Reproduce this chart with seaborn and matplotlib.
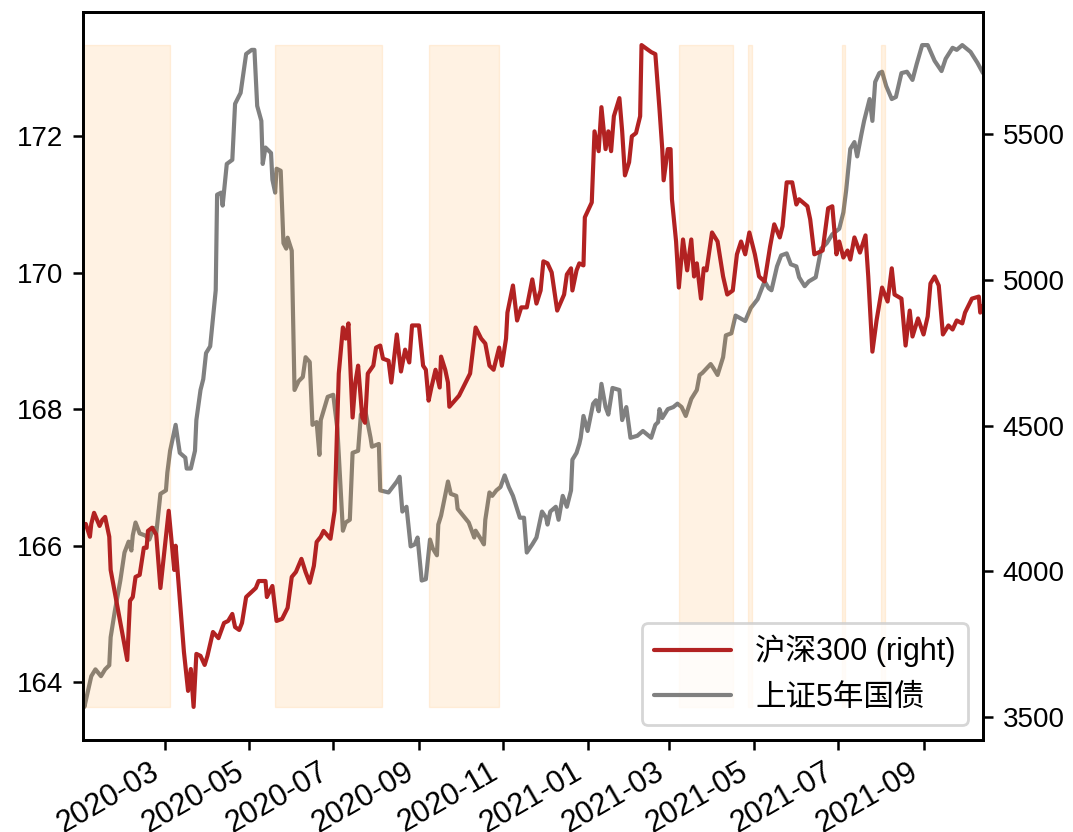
import matplotlib
matplotlib.use('Agg')
import matplotlib.pyplot as plt
import matplotlib.dates as mdates
import seaborn as sns
import pandas as pd

sns.set_theme(style='ticks')
plt.rcParams['font.family'] = ['Liberation Sans', 'Noto Sans CJK SC', 'DejaVu Sans']
plt.rcParams['axes.unicode_minus'] = False
plt.rcParams.update({
    'axes.edgecolor': 'black', 'axes.linewidth': 1.0,
    'xtick.color': 'black', 'ytick.color': 'black',
    'text.color': 'black', 'axes.labelcolor': 'black',
    'xtick.labelsize': 11, 'ytick.labelsize': 10, 'legend.fontsize': 11,
    'xtick.major.size': 3.5, 'ytick.major.size': 3.5,
    'xtick.major.width': 0.9, 'ytick.major.width': 0.9,
    'xtick.major.pad': 2.5,
})

# 沪深300 (right axis)
csi_dates = [
    "2020-01-02", "2020-01-04", "2020-01-07", "2020-01-08", "2020-01-10", "2020-01-14", "2020-01-16",
    "2020-01-18", "2020-01-21", "2020-01-22", "2020-02-03", "2020-02-05", "2020-02-07", "2020-02-09",
    "2020-02-12", "2020-02-15", "2020-02-17", "2020-02-18", "2020-02-21", "2020-02-24", "2020-02-27",
    "2020-03-01", "2020-03-04", "2020-03-08", "2020-03-09", "2020-03-15", "2020-03-18", "2020-03-20",
    "2020-03-22", "2020-03-24", "2020-03-27", "2020-03-30", "2020-04-01", "2020-04-05", "2020-04-09",
    "2020-04-13", "2020-04-16", "2020-04-19", "2020-04-21", "2020-04-24", "2020-04-26", "2020-04-29",
    "2020-05-06", "2020-05-08", "2020-05-13", "2020-05-14", "2020-05-18", "2020-05-21", "2020-05-25",
    "2020-05-29", "2020-06-01", "2020-06-04", "2020-06-08", "2020-06-11", "2020-06-14", "2020-06-17",
    "2020-06-19", "2020-06-22", "2020-06-24", "2020-06-29", "2020-07-02", "2020-07-05", "2020-07-08",
    "2020-07-10", "2020-07-12", "2020-07-15", "2020-07-17", "2020-07-19", "2020-07-22", "2020-07-24",
    "2020-07-26", "2020-07-30", "2020-08-01", "2020-08-04", "2020-08-06", "2020-08-10", "2020-08-12",
    "2020-08-16", "2020-08-19", "2020-08-22", "2020-08-25", "2020-08-27", "2020-09-01", "2020-09-04",
    "2020-09-06", "2020-09-08", "2020-09-10", "2020-09-13", "2020-09-16", "2020-09-17", "2020-09-20",
    "2020-09-22", "2020-09-23", "2020-09-30", "2020-10-08", "2020-10-12", "2020-10-16", "2020-10-19",
    "2020-10-22", "2020-10-25", "2020-10-29", "2020-10-31", "2020-11-03", "2020-11-04", "2020-11-08",
    "2020-11-11", "2020-11-14", "2020-11-18", "2020-11-22", "2020-11-25", "2020-11-28", "2020-11-30",
    "2020-12-03", "2020-12-06", "2020-12-10", "2020-12-15", "2020-12-17", "2020-12-20", "2020-12-21",
    "2020-12-24", "2020-12-26", "2020-12-29", "2020-12-30", "2021-01-04", "2021-01-06", "2021-01-09",
    "2021-01-11", "2021-01-14", "2021-01-16", "2021-01-18", "2021-01-20", "2021-01-24", "2021-01-26",
    "2021-01-28", "2021-01-31", "2021-02-02", "2021-02-05", "2021-02-08", "2021-02-09", "2021-02-16",
    "2021-02-19", "2021-02-22", "2021-02-24", "2021-02-25", "2021-02-28", "2021-03-02", "2021-03-03",
    "2021-03-06", "2021-03-08", "2021-03-11", "2021-03-14", "2021-03-17", "2021-03-19", "2021-03-21",
    "2021-03-24", "2021-03-26", "2021-03-28", "2021-04-01", "2021-04-05", "2021-04-09", "2021-04-12",
    "2021-04-16", "2021-04-19", "2021-04-22", "2021-04-25", "2021-04-28", "2021-05-02", "2021-05-05",
    "2021-05-09", "2021-05-13", "2021-05-16", "2021-05-20", "2021-05-22", "2021-05-25", "2021-05-29",
    "2021-06-01", "2021-06-03", "2021-06-09", "2021-06-11", "2021-06-14", "2021-06-20", "2021-06-24",
    "2021-06-27", "2021-06-30", "2021-07-02", "2021-07-05", "2021-07-08", "2021-07-10", "2021-07-13",
    "2021-07-17", "2021-07-21", "2021-07-23", "2021-07-26", "2021-07-29", "2021-08-02", "2021-08-06",
    "2021-08-09", "2021-08-11", "2021-08-16", "2021-08-19", "2021-08-22", "2021-08-24", "2021-08-28",
    "2021-09-01", "2021-09-04", "2021-09-06", "2021-09-09", "2021-09-12", "2021-09-15", "2021-09-19",
    "2021-09-22", "2021-09-25", "2021-09-29", "2021-10-01", "2021-10-06", "2021-10-11", "2021-10-12",
    "2021-10-14",
]
csi_values = [
    4156, 4163, 4119, 4163, 4201, 4156, 4177,
    4187, 4119, 4005, 3696, 3899, 3912, 3981,
    3988, 4081, 4081, 4139, 4150, 4126, 3943,
    4074, 4208, 4005, 4088, 3724, 3590, 3665,
    3535, 3717, 3710, 3679, 3710, 3792, 3771,
    3823, 3830, 3854, 3809, 3799, 3823, 3912,
    3943, 3967, 3967, 3912, 3950, 3830, 3837,
    3875, 3981, 3998, 4043, 3998, 3961, 4019,
    4101, 4119, 4139, 4112, 4208, 4679, 4837,
    4799, 4851, 4528, 4648, 4706, 4528, 4510,
    4679, 4706, 4768, 4775, 4730, 4723, 4648,
    4813, 4686, 4761, 4717, 4844, 4844, 4706,
    4692, 4586, 4631, 4692, 4631, 4737, 4692,
    4648, 4565, 4603, 4679, 4837, 4799, 4782,
    4706, 4692, 4768, 4706, 4799, 4888, 4981,
    4861, 4906, 4906, 5002, 4919, 4964, 5064,
    5057, 5026, 4895, 4950, 5019, 5040, 4964,
    5033, 5057, 5050, 5215, 5266, 5510, 5442,
    5593, 5449, 5510, 5442, 5562, 5624, 5510,
    5359, 5404, 5493, 5504, 5562, 5806, 5782,
    5775, 5586, 5449, 5342, 5449, 5449, 5277,
    5132, 4974, 5139, 5033, 5139, 5012, 5057,
    4936, 5040, 5033, 5163, 5132, 5012, 4950,
    4964, 5088, 5132, 5088, 5163, 5088, 5012,
    4995, 5115, 5191, 5146, 5184, 5335, 5335,
    5259, 5277, 5253, 5208, 5088, 5101, 5246,
    5253, 5088, 5132, 5077, 5101, 5070, 5146,
    5094, 5153, 5012, 4754, 4861, 4974, 4926,
    5040, 4950, 4936, 4775, 4895, 4806, 4868,
    4813, 4875, 4988, 5012, 4981, 4813, 4844,
    4830, 4861, 4851, 4888, 4936, 4943, 4888,
    4912,
]

# 上证5年国债 (left axis)
bond_dates = [
    "2020-01-02", "2020-01-03", "2020-01-08", "2020-01-11", "2020-01-15", "2020-01-18", "2020-01-21",
    "2020-01-22", "2020-01-25", "2020-01-29", "2020-02-01", "2020-02-04", "2020-02-06", "2020-02-07",
    "2020-02-09", "2020-02-12", "2020-02-16", "2020-02-19", "2020-02-22", "2020-02-24", "2020-02-27",
    "2020-03-02", "2020-03-03", "2020-03-05", "2020-03-09", "2020-03-12", "2020-03-16", "2020-03-17",
    "2020-03-20", "2020-03-23", "2020-03-24", "2020-03-27", "2020-03-29", "2020-03-31", "2020-04-03",
    "2020-04-07", "2020-04-08", "2020-04-11", "2020-04-12", "2020-04-15", "2020-04-19", "2020-04-21",
    "2020-04-25", "2020-04-29", "2020-05-03", "2020-05-05", "2020-05-07", "2020-05-10", "2020-05-11",
    "2020-05-13", "2020-05-17", "2020-05-18", "2020-05-20", "2020-05-21", "2020-05-24", "2020-05-26",
    "2020-05-28", "2020-05-29", "2020-06-01", "2020-06-03", "2020-06-06", "2020-06-09", "2020-06-11",
    "2020-06-14", "2020-06-16", "2020-06-19", "2020-06-21", "2020-06-22", "2020-06-27", "2020-07-01",
    "2020-07-04", "2020-07-08", "2020-07-10", "2020-07-13", "2020-07-15", "2020-07-19", "2020-07-21",
    "2020-07-24", "2020-07-28", "2020-07-29", "2020-08-03", "2020-08-04", "2020-08-10", "2020-08-13",
    "2020-08-16", "2020-08-18", "2020-08-20", "2020-08-23", "2020-08-26", "2020-08-29", "2020-08-31",
    "2020-09-03", "2020-09-06", "2020-09-09", "2020-09-11", "2020-09-14", "2020-09-15", "2020-09-17",
    "2020-09-22", "2020-09-24", "2020-09-28", "2020-09-29", "2020-10-07", "2020-10-11", "2020-10-12",
    "2020-10-16", "2020-10-18", "2020-10-19", "2020-10-22", "2020-10-24", "2020-10-27", "2020-10-30",
    "2020-11-02", "2020-11-05", "2020-11-08", "2020-11-10", "2020-11-13", "2020-11-16", "2020-11-18",
    "2020-11-22", "2020-11-25", "2020-11-29", "2020-12-02", "2020-12-03", "2020-12-05", "2020-12-09",
    "2020-12-11", "2020-12-14", "2020-12-17", "2020-12-20", "2020-12-21", "2020-12-24", "2020-12-26",
    "2020-12-27", "2020-12-29", "2021-01-01", "2021-01-05", "2021-01-07", "2021-01-09", "2021-01-11",
    "2021-01-14", "2021-01-16", "2021-01-19", "2021-01-24", "2021-01-26", "2021-01-29", "2021-02-01",
    "2021-02-06", "2021-02-10", "2021-02-16", "2021-02-19", "2021-02-21", "2021-02-22", "2021-02-24",
    "2021-02-28", "2021-03-04", "2021-03-07", "2021-03-10", "2021-03-13", "2021-03-17", "2021-03-21",
    "2021-03-23", "2021-03-25", "2021-03-31", "2021-04-02", "2021-04-05", "2021-04-09", "2021-04-11",
    "2021-04-15", "2021-04-18", "2021-04-25", "2021-04-29", "2021-05-04", "2021-05-09", "2021-05-12",
    "2021-05-14", "2021-05-18", "2021-05-21", "2021-05-25", "2021-05-28", "2021-06-01", "2021-06-03",
    "2021-06-07", "2021-06-10", "2021-06-15", "2021-06-19", "2021-06-23", "2021-06-27", "2021-07-02",
    "2021-07-05", "2021-07-07", "2021-07-10", "2021-07-13", "2021-07-15", "2021-07-18", "2021-07-20",
    "2021-07-24", "2021-07-26", "2021-07-28", "2021-07-31", "2021-08-02", "2021-08-05", "2021-08-09",
    "2021-08-12", "2021-08-16", "2021-08-20", "2021-08-24", "2021-08-27", "2021-08-31", "2021-09-04",
    "2021-09-09", "2021-09-14", "2021-09-17", "2021-09-22", "2021-09-25", "2021-09-29", "2021-10-05",
    "2021-10-10", "2021-10-14",
]
bond_values = [
    163.74, 163.64, 164.09, 164.19, 164.09, 164.19, 164.25,
    164.66, 165.04, 165.49, 165.90, 166.06, 165.93, 166.15,
    166.34, 166.18, 166.15, 166.09, 166.26, 166.18, 166.76,
    166.81, 167.07, 167.39, 167.77, 167.36, 167.29, 167.13,
    167.13, 167.39, 167.84, 168.28, 168.44, 168.82, 168.92,
    169.74, 171.14, 171.17, 170.98, 171.59, 171.65, 172.47,
    172.63, 173.20, 173.26, 173.26, 172.44, 172.22, 171.59,
    171.83, 171.75, 171.36, 171.17, 171.52, 171.49, 170.43,
    170.35, 170.51, 170.32, 168.28, 168.41, 168.47, 168.76,
    168.69, 167.77, 167.81, 167.33, 167.84, 168.18, 168.21,
    167.71, 166.22, 166.34, 166.38, 167.36, 167.39, 167.92,
    168.00, 167.58, 167.45, 167.49, 166.81, 166.78, 166.86,
    166.94, 167.01, 166.50, 166.57, 165.99, 166.02, 166.12,
    165.49, 165.51, 166.09, 165.96, 165.86, 166.31, 166.44,
    166.94, 166.76, 166.73, 166.54, 166.34, 166.12, 166.22,
    166.09, 166.02, 166.38, 166.78, 166.73, 166.81, 166.86,
    167.03, 166.86, 166.73, 166.60, 166.41, 166.41, 165.90,
    166.02, 166.12, 166.50, 166.41, 166.31, 166.50, 166.57,
    166.38, 166.73, 166.57, 166.81, 167.26, 167.36, 167.49,
    167.58, 167.90, 167.68, 168.08, 168.13, 167.97, 168.37,
    168.03, 167.92, 168.31, 168.28, 167.84, 168.03, 167.58,
    167.61, 167.68, 167.58, 167.77, 167.81, 168.00, 167.87,
    168.00, 168.03, 168.08, 168.03, 167.90, 168.15, 168.28,
    168.50, 168.53, 168.66, 168.60, 168.50, 168.76, 169.08,
    169.11, 169.37, 169.29, 169.48, 169.61, 169.87, 169.77,
    169.74, 170.09, 170.25, 170.28, 170.12, 170.09, 169.93,
    169.80, 169.87, 169.93, 170.35, 170.43, 170.56, 170.64,
    170.88, 171.20, 171.81, 171.91, 171.70, 172.02, 172.22,
    172.54, 172.22, 172.79, 172.92, 172.94, 172.73, 172.54,
    172.57, 172.92, 172.94, 172.82, 173.05, 173.33, 173.33,
    173.10, 172.95, 173.13, 173.29, 173.26, 173.33, 173.23,
    173.07, 172.92,
]

# shaded periods
shade_start = ["2020-01-02", "2020-05-20", "2020-09-08", "2021-03-08", "2021-04-27", "2021-07-04", "2021-08-01"]
shade_end = ["2020-03-05", "2020-08-05", "2020-10-29", "2021-04-16", "2021-04-30", "2021-07-06", "2021-08-04"]

left_ticks = [164, 166, 168, 170, 172]
right_ticks = [3500, 4000, 4500, 5000, 5500]

csi = pd.DataFrame({'date': pd.to_datetime(csi_dates), 'value': csi_values})
bond = pd.DataFrame({'date': pd.to_datetime(bond_dates), 'value': bond_values})

fig, ax = plt.subplots(figsize=(1073 / 200, 832 / 200), dpi=200)
ax2 = ax.twinx()

sns.lineplot(data=bond, x='date', y='value', ax=ax, color='gray', linewidth=1.5,
             label='上证5年国债')

# shading spans the range of the right-axis series
lo, hi = csi['value'].min(), csi['value'].max()
for s, e in zip(shade_start, shade_end):
    ax2.fill_between(pd.to_datetime([s, e]), lo, hi, color='darkorange', alpha=0.11, linewidth=0.5)

sns.lineplot(data=csi, x='date', y='value', ax=ax2, color='firebrick', linewidth=1.5,
             label='沪深300 (right)')

for a in (ax, ax2):
    if a.get_legend() is not None:
        a.get_legend().remove()
    a.set_xlabel('')
    a.set_ylabel('')

ax.set_xlim(min(csi['date'].min(), bond['date'].min()), max(csi['date'].max(), bond['date'].max()))
ax.set_yticks(left_ticks)
ax2.set_yticks(right_ticks)
ax.xaxis.set_major_locator(mdates.MonthLocator(bymonth=[1, 3, 5, 7, 9, 11]))
ax.xaxis.set_major_formatter(mdates.DateFormatter('%Y-%m'))
plt.setp(ax.get_xticklabels(), rotation=30, ha='right')

h1, l1 = ax.get_legend_handles_labels()
h2, l2 = ax2.get_legend_handles_labels()
ax2.legend(h2 + h1, l2 + l1, loc='lower right', handlelength=2.5, frameon=True)

fig.subplots_adjust(left=83 / 1073, right=983 / 1073, top=1 - 12 / 832, bottom=1 - 740 / 832)
fig.savefig('out.png', dpi=200)
plt.close()
